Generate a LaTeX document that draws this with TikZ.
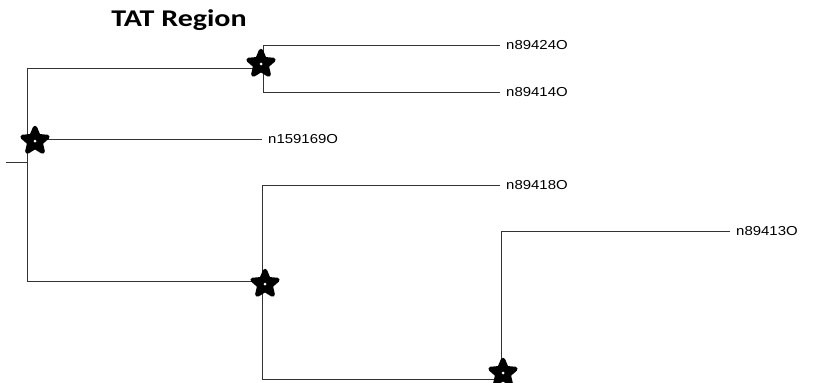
\documentclass[tikz,border=0pt]{standalone}
\usepackage{fontspec}
\setmainfont{Liberation Sans}
\newfontfamily\titlefont{Carlito}
\usetikzlibrary{shapes.geometric}
\tikzset{
  branch/.style={draw=black!80, line width=0.9pt},
  leaf/.style={anchor=west, inner sep=0pt, xshift=6pt, font=\fontsize{13}{13}\selectfont},
  dupstar/.style={star, star points=5, star point ratio=2.2, minimum size=26pt, inner sep=0pt,
                  fill=black, draw=black, line width=4.5pt, line join=round},
  hole/.style={circle, fill=white, inner sep=0pt, minimum size=3pt}
}
\begin{document}
\begin{tikzpicture}[x=1pt, y=-1pt]
\useasboundingbox (0,0) rectangle (825,383);

% title
\node[font=\titlefont\bfseries\fontsize{24}{24}\selectfont] (title) at (179,20) {\scalebox{1.25}[1]{TAT Region}};

% internal coordinates
\coordinate (stub) at (6,162);
\coordinate (root) at (27,162);
\coordinate (rt) at (27,68);
\coordinate (rm) at (27,139);
\coordinate (rb) at (27,281);
\coordinate (a) at (263,68);
\coordinate (at) at (263,45);
\coordinate (ab) at (263,92);
\coordinate (b) at (262,281);
\coordinate (bt) at (262,185);
\coordinate (bb) at (262,379);
\coordinate (c) at (501,379);
\coordinate (ct) at (501,231);

% leaves
\coordinate (e1) at (500,45);
\coordinate (e2) at (500,92);
\coordinate (e3) at (262,139);
\coordinate (e4) at (500,185);
\coordinate (e5) at (730,231);
\node[leaf] (l1) at (e1) {\scalebox{1.15}[1]{n89424O}};
\node[leaf] (l2) at (e2) {\scalebox{1.15}[1]{n89414O}};
\node[leaf] (l3) at (e3) {\scalebox{1.15}[1]{n159169O}};
\node[leaf] (l4) at (e4) {\scalebox{1.15}[1]{n89418O}};
\node[leaf] (l5) at (e5) {\scalebox{1.15}[1]{n89413O}};

% branches
\draw[branch] (stub) -- (root);
\draw[branch] (rt) -- (rb);
\draw[branch] (rt) -- (a);
\draw[branch] (at) -- (ab);
\draw[branch] (at) -- (e1);
\draw[branch] (ab) -- (e2);
\draw[branch] (rm) -- (e3);
\draw[branch] (rb) -- (b);
\draw[branch] (bt) -- (bb);
\draw[branch] (bt) -- (e4);
\draw[branch] (bb) -- (c);
\draw[branch] (c) -- (ct);
\draw[branch] (ct) -- (e5);

% duplication stars
\node[dupstar] (s1) at (35,141) {};
\node[dupstar] (s2) at (261,64) {};
\node[dupstar] (s3) at (265,284) {};
\node[dupstar] (s4) at (503,373) {};
\foreach \s in {s1,s2,s3,s4} \node[hole] at (\s.center) {};
\end{tikzpicture}
\end{document}
